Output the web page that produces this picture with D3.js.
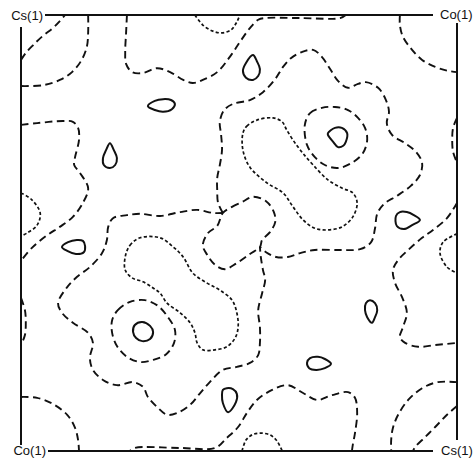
<!DOCTYPE html>
<html lang="en">

<head>
    <meta charset="UTF-8">
    <title>Cs Co contour section</title>
    <style>
        body {
            margin: 0;
            background: #fff;
        }

        .corner {
            font-family: "Liberation Sans", Arial, sans-serif;
            font-size: 13px;
            fill: #111;
        }
    </style>
</head>

<body>
    <div id="wrapper"></div>

    <script src="https://d3js.org/d3.v7.min.js"></script>
    <script>
        // contour traces, cell coords in % (x to the right, y upwards)

        // --- dashed contours (open, ending on the cell edge or at saddles)
        const edgeTL1 = [[0, 89.7], [1.1, 91.3], [2.8, 93.1], [5.0, 95.2], [7.3, 97.0], [8.9, 98.6], [10.1, 100]];
        const edgeTL2 = [[15.4, 100], [15.4, 95.9], [15.1, 92.7], [13.8, 89.5], [11.7, 86.9], [8.9, 85.1], [5.0, 83.9], [0, 83.7]];
        const topWave = [[24.3, 100], [24.1, 95.9], [23.9, 91.5], [24.1, 88.8], [25.5, 86.9], [28.0, 86.7], [31.2, 87.8],
            [34.2, 86.9], [37.2, 85.1], [39.4, 84.4], [41.7, 85.1], [45.0, 86.9], [47.9, 90.4], [50.2, 93.8],
            [52.5, 97.0], [54.4, 98.9], [56.0, 99.3], [64.0, 99.3], [73.2, 99.3], [74.5, 100]];
        const edgeTR = [[86.9, 100], [86.9, 97.7], [87.6, 95.0], [89.7, 92.0], [92.0, 89.7], [95.0, 88.1], [97.9, 87.2], [100, 86.9]];
        const bumpR = [[100, 76.4], [99.1, 74.1], [98.9, 71.3], [99.1, 68.6], [100, 66.1]];
        const bumpL = [[0, 35.1], [0.9, 32.3], [1.1, 29.6], [0.9, 26.6], [0, 24.3]];
        const upperRun = [[46.3, 54.6], [45.2, 56.9], [45.0, 59.9], [45.0, 62.6], [45.6, 65.6], [46.1, 69.0], [45.9, 72.5],
            [45.6, 75.5], [46.6, 78.2], [48.6, 79.6], [52.5, 80.5], [55.5, 82.3], [58.3, 85.3], [60.1, 88.1],
            [61.9, 90.1], [64.4, 91.5], [67.0, 92.0], [69.0, 90.4], [70.9, 87.6], [72.7, 84.9], [75.0, 83.3],
            [77.3, 84.2], [79.1, 84.6], [81.9, 83.3], [83.7, 80.5], [84.4, 77.8], [83.9, 75.2], [85.1, 72.5],
            [88.1, 70.6], [90.6, 68.6], [92.0, 66.1], [91.5, 63.3], [89.4, 60.8], [86.2, 58.5], [83.3, 56.7],
            [81.7, 54.4], [81.2, 51.1], [80.3, 47.9], [77.8, 46.3], [73.2, 46.1], [67.4, 46.1], [64.0, 45.4],
            [61.2, 44.5], [58.5, 44.5], [56.2, 45.6], [54.8, 46.8]];
        const lowerRun = [[46.3, 54.6], [44.0, 54.6], [40.4, 55.3], [36.5, 54.8], [31.9, 53.9], [27.3, 54.4], [24.3, 54.1],
            [21.1, 53.4], [20.0, 51.4], [19.7, 48.4], [18.6, 45.4], [15.8, 42.2], [12.8, 39.9], [10.6, 37.6],
            [8.5, 33.9], [9.4, 31.7], [11.9, 29.4], [15.4, 27.1], [16.5, 24.8], [15.8, 21.3], [16.5, 18.6],
            [18.8, 16.3], [22.0, 15.1], [25.7, 15.8], [28.0, 14.7], [29.1, 12.4], [31.2, 10.1], [33.5, 8.3],
            [35.8, 8.7], [38.8, 10.6], [41.1, 13.3], [43.3, 15.8], [46.3, 18.6], [49.5, 19.3], [52.5, 20.2],
            [54.4, 22.0], [54.8, 24.8], [54.8, 28.4], [54.4, 32.3], [55.3, 36.2], [56.0, 39.2], [55.5, 41.5],
            [55.0, 44.5], [54.8, 46.8]];
        const leftRun = [[0, 74.8], [3.7, 75.2], [9.6, 75.7], [11.9, 75.5], [13.1, 74.1], [13.3, 71.3], [12.4, 67.4],
            [12.2, 65.6], [13.5, 63.8], [15.4, 60.3], [14.2, 56.9], [11.9, 53.7], [8.9, 51.4], [6.0, 49.5],
            [2.5, 46.6], [0, 43.6]];
        const rightRun = [[100, 56.9], [97.7, 53.4], [94.5, 50.7], [92.0, 48.9], [88.8, 46.1], [86.5, 43.8], [85.3, 41.5],
            [85.8, 38.5], [87.4, 35.3], [88.5, 31.7], [87.6, 28.4], [86.9, 26.1], [88.1, 24.8], [91.1, 23.9],
            [95.0, 24.3], [100, 24.8]];
        const edgeBR1 = [[100, 15.8], [95.6, 15.8], [92.0, 14.4], [88.8, 11.7], [86.5, 8.3], [85.3, 5.3], [84.9, 2.5], [84.9, 0]];
        const edgeBR2 = [[100, 10.3], [97.7, 8.3], [95.0, 5.5], [92.7, 3.2], [90.4, 0.9], [89.9, 0]];
        const edgeBL = [[0, 12.4], [3.7, 12.2], [7.3, 10.8], [10.6, 8.3], [12.4, 5.3], [13.1, 2.5], [13.3, 0]];
        const bottomWave = [[75.9, 0], [76.1, 1.4], [76.6, 4.1], [77.1, 8.7], [76.6, 12.2], [75.0, 13.5], [71.3, 12.8],
            [67.9, 11.7], [64.7, 13.3], [61.2, 15.1], [57.6, 14.0], [54.1, 11.7], [51.8, 8.7], [49.8, 5.5],
            [47.2, 3.0], [44.5, 0.7], [36.5, 0.7], [26.1, 0.7], [25.0, 0]];

        // --- dashed closed contours
        const centreLoop = [[46.3, 54.6], [48.4, 56.0], [50.7, 57.1], [53.2, 58.3], [56.2, 57.3], [58.0, 54.8], [58.3, 52.5],
            [57.1, 50.2], [55.3, 48.4], [54.8, 46.8], [52.5, 45.2], [49.5, 43.1], [46.8, 41.7], [44.5, 42.7],
            [42.7, 45.0], [41.7, 47.2], [42.9, 50.0], [45.0, 51.6]];
        const ringTR = [[65.1, 74.8], [66.3, 77.5], [69.0, 78.7], [72.0, 78.9], [75.0, 78.2], [77.3, 76.4], [78.9, 74.1],
            [79.4, 71.3], [78.4, 68.3], [75.9, 66.1], [72.7, 64.9], [69.7, 65.6], [67.4, 67.4], [65.6, 70.2]];
        const ringBL = [[20.9, 30.0], [22.2, 32.3], [25.0, 34.2], [28.4, 34.6], [31.4, 33.3], [33.7, 30.7], [35.3, 27.8],
            [35.1, 24.8], [33.3, 22.2], [30.3, 20.9], [27.3, 20.4], [24.3, 21.6], [22.0, 24.1], [20.9, 27.1]];

        // --- dotted contours
        const dipTop = [[39.9, 100], [41.7, 97.7], [44.0, 96.3], [46.1, 95.9], [48.2, 96.6], [49.5, 98.4], [50.2, 100]];
        const archBottom = [[50.7, 0], [51.6, 2.5], [53.0, 3.7], [54.8, 4.1], [57.1, 3.7], [58.7, 2.3], [59.9, 0]];
        const dotL = [[0, 59.2], [2.5, 57.6], [4.4, 54.6], [3.7, 51.8], [1.4, 50.0], [0, 49.3]];
        const dotR = [[100, 49.8], [96.8, 47.9], [96.1, 45.4], [97.7, 42.2], [100, 40.8]];
        const holeUpper = [[50.9, 72.9], [51.8, 74.5], [54.1, 75.9], [57.8, 76.4], [59.9, 75.5], [60.8, 73.9], [62.4, 71.3],
            [64.4, 68.6], [67.0, 65.6], [70.4, 62.2], [73.6, 60.3], [76.1, 59.2], [77.1, 56.9], [76.1, 53.7],
            [73.6, 51.4], [70.4, 50.7], [67.4, 51.1], [64.7, 53.0], [62.4, 56.0], [60.1, 59.2], [56.4, 61.5],
            [52.5, 65.1], [50.9, 69.0]];
        const holeLower = [[23.9, 44.5], [25.0, 47.2], [27.3, 48.9], [31.9, 48.9], [34.9, 46.8], [37.2, 44.5], [39.4, 40.8],
            [42.7, 38.5], [45.6, 36.9], [48.4, 34.6], [49.5, 31.7], [49.8, 28.4], [49.1, 25.9], [47.2, 23.9],
            [44.5, 23.2], [41.7, 23.2], [40.4, 24.8], [39.9, 27.1], [38.8, 29.4], [36.5, 31.7], [33.5, 33.9],
            [31.9, 36.2], [30.3, 37.4], [28.0, 38.8], [25.5, 39.7], [23.9, 41.5]];

        // --- solid (peak) contours
        const peakTR = [[70.4, 72.9], [72.0, 74.1], [73.6, 74.1], [74.8, 72.9], [74.5, 70.9], [73.9, 70.0], [72.7, 69.7], [71.6, 70.9], [70.4, 72.5]];
        const peakBL = [[26.1, 28.9], [27.8, 29.6], [29.6, 28.7], [30.3, 27.3], [29.6, 25.7], [27.8, 25.2], [26.4, 25.9], [25.7, 27.3]];
        const dropTop = [[53.2, 90.8], [54.1, 89.4], [54.8, 87.6], [54.4, 86.0], [53.2, 85.1], [51.6, 85.6], [50.9, 87.2], [51.6, 89.0]];
        const dropBottom = [[47.2, 14.4], [48.6, 14.2], [49.5, 13.1], [49.3, 11.2], [47.5, 8.9], [46.3, 11.0], [46.1, 12.8], [46.3, 14.0]];
        const dropLeft = [[20.4, 70.6], [21.3, 69.0], [22.0, 67.2], [21.6, 65.6], [20.4, 64.9], [19.0, 65.6], [18.8, 67.2], [19.5, 69.0]];
        const dropRight = [[80.0, 34.6], [81.2, 33.9], [81.7, 32.3], [81.2, 30.7], [80.5, 29.4], [79.4, 30.7], [78.9, 32.3], [79.1, 33.9]];
        const eyeTL = [[29.1, 79.1], [30.7, 80.3], [32.6, 80.7], [34.4, 80.5], [35.3, 79.6], [34.6, 78.4], [32.6, 77.8], [30.7, 78.2]];
        const eyeBR = [[65.6, 20.2], [66.3, 21.3], [68.1, 21.6], [69.7, 21.1], [71.1, 20.0], [69.7, 19.0], [67.7, 18.6], [66.1, 19.0]];
        const eyeL = [[9.4, 46.8], [10.8, 47.9], [12.8, 48.4], [14.2, 48.2], [14.7, 47.0], [14.4, 45.6], [12.6, 45.2], [10.6, 45.9]];
        const eyeR = [[86.0, 53.9], [86.9, 54.8], [88.5, 54.8], [90.1, 54.1], [91.5, 53.0], [89.7, 51.8], [87.8, 50.9], [86.2, 51.6]];

        // corner atoms: label, cell corner
        const cornerNames = ["Cs(1)", "Co(1)", "Co(1)", "Cs(1)"];
        const cornerCells = [[0, 100], [100, 100], [0, 0], [100, 0]];

        const dashedOpen = [edgeTL1, edgeTL2, topWave, edgeTR, bumpR, bumpL, upperRun, lowerRun, leftRun, rightRun,
            edgeBR1, edgeBR2, edgeBL, bottomWave];
        const dashedClosed = [centreLoop, ringTR, ringBL];
        const dottedOpen = [dipTop, archBottom, dotL, dotR];
        const dottedClosed = [holeUpper, holeLower];
        const solidClosed = [peakTR, peakBL, dropTop, dropBottom, dropLeft, dropRight, eyeTL, eyeBR, eyeL, eyeR];

        // 畫布
        const svgWidth = 475,
            svgHeight = 459,
            marginLeft = 21,
            marginTop = 15,
            side = 436;

        const svg = d3.select('#wrapper').append('svg')
            .attr('width', svgWidth)
            .attr('height', svgHeight)
            .style('display', 'block');

        const x = d3.scaleLinear().domain([0, 100]).range([marginLeft, marginLeft + side]);
        const y = d3.scaleLinear().domain([0, 100]).range([marginTop + side, marginTop]);

        const openLine = d3.line()
            .x(d => x(d[0]))
            .y(d => y(d[1]))
            .curve(d3.curveCatmullRom.alpha(0.5));

        const closedLine = d3.line()
            .x(d => x(d[0]))
            .y(d => y(d[1]))
            .curve(d3.curveCatmullRomClosed.alpha(0.5));

        function drawSet(list, gen, dash, w) {
            svg.append('g')
                .selectAll('path')
                .data(list)
                .join('path')
                .attr('d', gen)
                .attr('fill', 'none')
                .attr('stroke', '#111')
                .attr('stroke-width', w)
                .attr('stroke-linecap', 'butt')
                .attr('stroke-dasharray', dash);
        }

        // frame, broken at the corners where the labels sit
        const frame = svg.append('g')
            .attr('stroke', '#111')
            .attr('stroke-width', 2);

        frame.append('line')
            .attr('x1', x(0) + 24).attr('x2', x(100) - 24)
            .attr('y1', y(100)).attr('y2', y(100));
        frame.append('line')
            .attr('x1', x(0) + 27).attr('x2', x(100) - 24)
            .attr('y1', y(0)).attr('y2', y(0));
        frame.append('line')
            .attr('x1', x(0)).attr('x2', x(0))
            .attr('y1', y(100) + 12).attr('y2', y(0) - 6);
        frame.append('line')
            .attr('x1', x(100)).attr('x2', x(100))
            .attr('y1', y(100) + 8).attr('y2', y(0) - 11);

        drawSet(dashedOpen, openLine, '7.5,4.5', 1.9);
        drawSet(dashedClosed, closedLine, '7.5,4.5', 1.9);
        drawSet(dottedOpen, openLine, '3.2,2.3', 1.7);
        drawSet(dottedClosed, closedLine, '3.2,2.3', 1.7);
        drawSet(solidClosed, closedLine, null, 2);

        // corner labels
        const labelShift = [[22, 5, 'end'], [-17, 4, 'start'], [25, 4, 'end'], [-16, 4, 'start']];
        svg.append('g')
            .selectAll('text')
            .data(cornerNames)
            .join('text')
            .attr('class', 'corner')
            .attr('x', (d, i) => x(cornerCells[i][0]) + labelShift[i][0])
            .attr('y', (d, i) => y(cornerCells[i][1]) + labelShift[i][1])
            .attr('text-anchor', (d, i) => labelShift[i][2])
            .text(d => d);
    </script>
</body>

</html>
